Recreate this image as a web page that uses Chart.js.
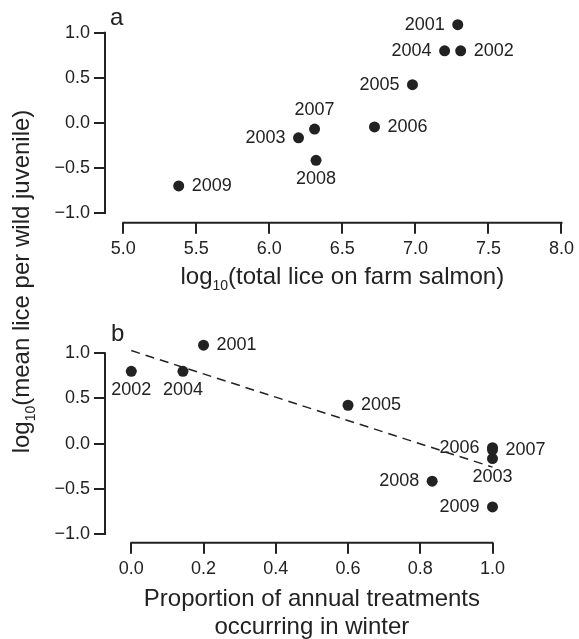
<!DOCTYPE html>
<html><head><meta charset="utf-8">
<script src="https://cdn.jsdelivr.net/npm/chart.js@4/dist/chart.umd.min.js"></script>
<style>
html,body{margin:0;padding:0;background:#fff;}
#wrap{position:relative;width:579px;height:639px;overflow:hidden;background:#fff;}
canvas{position:absolute;left:0;top:0;}
</style></head><body>
<div id="wrap"><canvas id="ca" width="579" height="639"></canvas><canvas id="cb" width="579" height="639"></canvas></div>
<script>
// ---- data ----
const years = ['2001','2002','2003','2004','2005','2006','2007','2008','2009'];
const farmLice = [7.29, 7.31, 6.20, 7.20, 6.98, 6.72, 6.31, 6.32, 5.38];     // log10 total lice on farm salmon
const winterProp = [0.20, 0.00, 1.00, 0.143, 0.60, 1.00, 1.00, 0.833, 1.00]; // proportion of treatments in winter
const wildLice = [1.09, 0.80, -0.165, 0.80, 0.425, -0.045, -0.068, -0.415, -0.70]; // log10 mean lice per wild juvenile
const fitX = [0, 1];
const fitY = [1.03, -0.26];
const xTicksA = [5.0, 5.5, 6.0, 6.5, 7.0, 7.5, 8.0];
const xTicksB = [0.0, 0.2, 0.4, 0.6, 0.8, 1.0];
const yTicks = [-1.0, -0.5, 0.0, 0.5, 1.0];
// label placement (style)
const sidesA = ['left','right','left','left','left','right','above','below','right'];
const sidesB = ['right','below','below','below','right','left','right','left','left'];

const INK = '#222';
const FONT = '"Liberation Sans", Arial, Helvetica, sans-serif';
Chart.defaults.font.family = FONT;

function fmt(v){ return (v < 0 ? '\u2212' : '') + Math.abs(v).toFixed(1); }

function scaleCfg(axis, min, max, ticksArr){
  return {
    type: 'linear', min: min, max: max,
    afterBuildTicks: s => { s.ticks = ticksArr.map(v => ({value: v})); },
    afterFit: s => { if (axis === 'x') s.height = 60; else s.width = 105; },
    border: {display: false},
    grid: {drawOnChartArea: false, drawTicks: true, tickLength: 11, lineWidth: 2, color: INK},
    ticks: {color: INK, font: {family: FONT, size: 18}, padding: axis === 'x' ? 5 : 4,
            maxRotation: 0, autoSkip: false, callback: v => fmt(v)}
  };
}

const axisLines = {
  id: 'axisLines',
  afterDraw(chart){
    const ctx = chart.ctx;
    ctx.save();
    ctx.strokeStyle = INK; ctx.lineWidth = 2; ctx.lineCap = 'square';
    const xs = chart.scales.x, ys = chart.scales.y;
    const xt = xs.ticks, yt = ys.ticks;
    ctx.beginPath();
    ctx.moveTo(xs.getPixelForValue(xt[0].value), xs.top);
    ctx.lineTo(xs.getPixelForValue(xt[xt.length-1].value), xs.top);
    ctx.moveTo(ys.right, ys.getPixelForValue(yt[0].value));
    ctx.lineTo(ys.right, ys.getPixelForValue(yt[yt.length-1].value));
    ctx.stroke();
    ctx.restore();
  }
};

function yearLabels(sides){
  return {
    id: 'yearLabels',
    afterDatasetsDraw(chart){
      const ctx = chart.ctx;
      const meta = chart.getDatasetMeta(0);
      ctx.save();
      ctx.fillStyle = INK;
      ctx.font = '18px ' + FONT;
      meta.data.forEach((pt, i) => {
        const s = sides[i];
        let x = pt.x, y = pt.y;
        ctx.textBaseline = 'middle';
        if (s === 'left'){ ctx.textAlign = 'right'; x -= 13; }
        else if (s === 'right'){ ctx.textAlign = 'left'; x += 13; }
        else if (s === 'above'){ ctx.textAlign = 'center'; y -= 19; }
        else { ctx.textAlign = 'center'; y += 18.5; }
        ctx.fillText(years[i], x, y);
      });
      ctx.restore();
    }
  };
}

function drawParts(ctx, parts, cx, base, size){
  let total = 0;
  const fonts = parts.map(p => (p.sub ? Math.round(size*0.6) : size) + 'px ' + FONT);
  parts.forEach((p, i) => { ctx.font = fonts[i]; total += ctx.measureText(p.t).width; });
  let x = cx - total/2;
  ctx.textAlign = 'left'; ctx.textBaseline = 'alphabetic';
  parts.forEach((p, i) => {
    ctx.font = fonts[i];
    ctx.fillText(p.t, x, base + (p.sub ? size*0.25 : 0));
    x += ctx.measureText(p.t).width;
  });
}

const titlesA = {
  id: 'titlesA',
  afterDraw(chart){
    const ctx = chart.ctx, xs = chart.scales.x;
    ctx.save(); ctx.fillStyle = INK;
    const cx = xs.getPixelForValue((xTicksA[0] + xTicksA[xTicksA.length-1]) / 2);
    drawParts(ctx, [{t:'log'},{t:'10',sub:true},{t:'(total lice on farm salmon)'}], cx, 284, 24);
    ctx.font = '24px ' + FONT; ctx.textAlign = 'left'; ctx.textBaseline = 'alphabetic';
    ctx.fillText('a', 110, 25);
    // shared y title
    ctx.translate(29, 281.5); ctx.rotate(-Math.PI/2);
    drawParts(ctx, [{t:'log'},{t:'10',sub:true},{t:'(mean lice per wild juvenile)'}], 0, 0, 24);
    ctx.restore();
  }
};
const titlesB = {
  id: 'titlesB',
  afterDraw(chart){
    const ctx = chart.ctx, xs = chart.scales.x;
    ctx.save(); ctx.fillStyle = INK;
    const cx = xs.getPixelForValue((xTicksB[0] + xTicksB[xTicksB.length-1]) / 2);
    ctx.font = '24px ' + FONT; ctx.textAlign = 'center'; ctx.textBaseline = 'alphabetic';
    ctx.fillText('Proportion of annual treatments', cx, 606);
    ctx.fillText('occurring in winter', cx, 634);
    ctx.textAlign = 'left';
    ctx.fillText('b', 111, 340.5);
    ctx.restore();
  }
};

const common = {
  responsive: false, animation: false, devicePixelRatio: 1,
  plugins: {legend: {display: false}, tooltip: {enabled: false}, title: {display: false}}
};

new Chart(document.getElementById('ca'), {
  type: 'scatter',
  data: {datasets: [{
    data: farmLice.map((x, i) => ({x: x, y: wildLice[i]})),
    pointRadius: 5.5, pointBackgroundColor: INK, pointBorderWidth: 0, clip: false
  }]},
  options: Object.assign({}, common, {
    layout: {padding: {left: 0, right: 14.7, top: 14.45, bottom: 356.3}},
    scales: {x: scaleCfg('x', 4.8755, 8.0, xTicksA), y: scaleCfg('y', -1.1075, 1.2, yTicks)}
  }),
  plugins: [axisLines, yearLabels(sidesA), titlesA]
});

new Chart(document.getElementById('cb'), {
  type: 'scatter',
  data: {datasets: [
    {data: winterProp.map((x, i) => ({x: x, y: wildLice[i]})),
     pointRadius: 5.5, pointBackgroundColor: INK, pointBorderWidth: 0, clip: false, order: 0},
    {data: fitX.map((x, i) => ({x: x, y: fitY[i]})), showLine: true, pointRadius: 0,
     borderColor: INK, borderWidth: 1.5, borderDash: [9, 6], fill: false, clip: false, order: 1}
  ]},
  options: Object.assign({}, common, {
    layout: {padding: {left: 0, right: 86.5, top: 330.7, bottom: 36.3}},
    scales: {x: scaleCfg('x', -0.0728, 1.0, xTicksB), y: scaleCfg('y', -1.0963, 1.25, yTicks)}
  }),
  plugins: [axisLines, yearLabels(sidesB), titlesB]
});
</script>
</body></html>
